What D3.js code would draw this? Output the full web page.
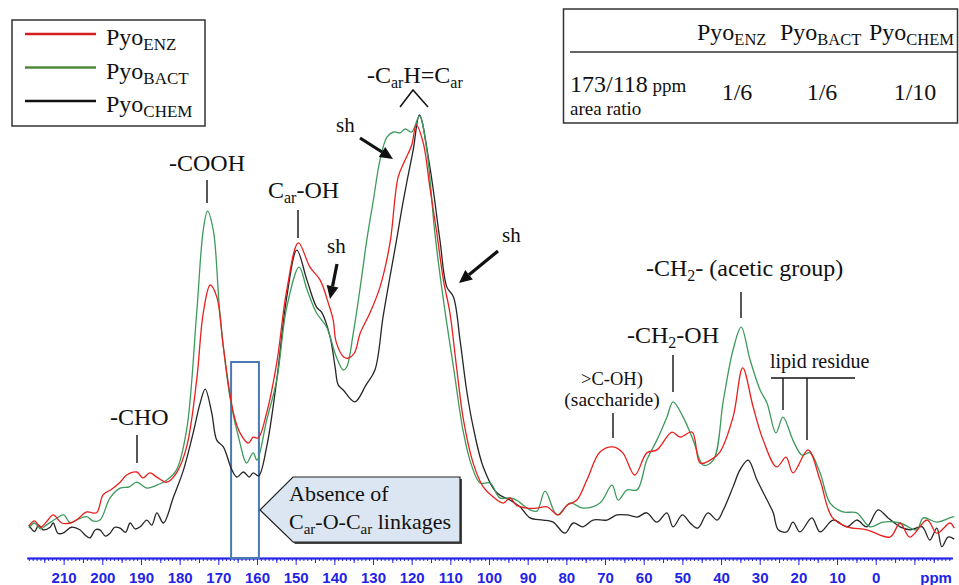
<!DOCTYPE html>
<html><head><meta charset="utf-8">
<script src="https://cdn.jsdelivr.net/npm/d3@7"></script>
<style>body{margin:0;background:#fff} svg{display:block}</style>
</head><body>
<svg id="c" width="959" height="585"></svg>
<script>
// ---- data: [ppm, relative intensity] ----
const enz = [[219,3.3],[217.5,4.5],[216,3.0],[214.5,4.2],[212.7,5.9],[210.5,4.0],[208.3,4.0],[206.7,4.7],[204,6.6],[201.5,6.4],[199.8,10.6],[197.5,12.0],[195.4,13.6],[193.7,15.3],[191.1,16.0],[189.5,14.6],[187.7,15.8],[185.9,14.8],[183.3,13.6],[180.8,15.8],[178.2,21.9],[175.6,37.6],[173.9,53.4],[172.1,60.0],[170.4,57.2],[168.7,45.4],[166.1,29.9],[164.4,25.2],[162.2,22.8],[161,24.2],[159.7,24.0],[157.5,29.9],[154.9,41.6],[152.3,58.8],[149.3,69.9],[146.3,64.2],[143.7,61.2],[141.3,55],[140.3,51.8],[139.5,46.5],[137.5,43],[136.4,42.8],[134.8,44],[133.3,48.7],[130.8,53.4],[128.2,59.5],[125.6,69.9],[123.5,85.4],[121.7,89.4],[120,92.9],[118.8,97.6],[117,93.4],[115.3,83],[113.5,72.2],[111.8,61.2],[110.1,53.4],[108.4,40.7],[106.6,28.2],[104.1,18.1],[101.5,12.5],[98.9,10.1],[96.3,8.7],[94.6,9.9],[92.9,8.2],[90.2,7.5],[87.6,7.5],[85,7.8],[82.1,5.9],[79.8,8.2],[77.3,9.4],[74.7,14.1],[71.3,20.7],[67.9,21.9],[65.4,20.5],[62.3,15.3],[59.2,20.5],[56.6,21.2],[52.7,25.4],[50.6,24.2],[47.5,25.4],[45.4,18.1],[42.8,18.8],[40.3,20.7],[36.9,28.9],[34.4,40.5],[31.7,31.3],[29.1,23.5],[25.6,17.2],[23.2,19.5],[21.4,15.8],[17.5,21.2],[14.4,14.1],[11.3,5.4],[7.4,3.1],[2.3,2.4],[-3.7,0.7],[-6.3,4.0],[-8.8,0.7],[-13.3,4.7],[-15.8,1.6],[-19.2,4.0],[-20.3,2.8]];

const bact = [[219,2.8],[217.5,4.0],[216,2.6],[214.5,3.5],[212,5.0],[210,5.9],[208.3,4.0],[206.7,4.7],[204,5.5],[202.5,4.5],[200.6,4.7],[198,9.9],[195.4,12.2],[193,12.5],[191.1,13.6],[188.5,12.2],[185.9,12.9],[183.3,14.1],[180.8,16.5],[178.2,25.9],[175.6,53.4],[173.9,72.9],[172.8,77.4],[171.3,72.9],[169.6,53.4],[167,33.6],[164.4,22.8],[162.7,18.1],[161,20.5],[160,18.8],[157.5,28.2],[154.9,37.6],[152.3,54.8],[149.1,64.2],[147.1,59],[144.6,53.4],[142,50.1],[139.5,43.1],[137.7,40.0],[136.8,40.7],[135.1,48.7],[133.3,59.5],[131.6,70.6],[129.9,80],[128.2,89.4],[126.4,94.8],[124.7,96],[123,95.8],[121.7,96.7],[120,96],[118,99.8],[116.1,91.8],[114,72.2],[111.8,56.5],[109.2,40.7],[106.6,25.2],[104.5,17.5],[102.3,13.4],[99.7,13.4],[97.2,9.9],[94.6,9.9],[92.9,9.4],[89.4,7.1],[87.6,6.8],[85.5,11.5],[82.4,5.9],[79.1,8.7],[75.7,7.5],[71.3,8.7],[68.2,12.9],[66.6,9.4],[64.3,11.8],[61.7,11.8],[59.2,18.8],[56.6,23.5],[54,28.9],[52.4,32.5],[49.8,28.9],[47.2,23.5],[44.6,17.6],[42,18.8],[39.4,32.9],[36.9,44.7],[34.8,50.1],[32.5,42.4],[29.9,35.3],[28.1,32.2],[25.8,25.2],[24,28.9],[21.4,23.5],[19.1,20.0],[17,20.5],[14.4,15.8],[11.8,8.7],[8.5,6.6],[4.9,6.4],[1.5,3.1],[-1.9,4.2],[-6.3,4.0],[-10.6,2.4],[-12.3,5.2],[-15.8,4.2],[-19.7,5.4],[-20.3,5.5]];

const chem = [[219,3.5],[217.5,2.0],[216.5,3.5],[215.3,2.4],[213.5,3.0],[212.7,4.0],[211.5,1.6],[210.2,1.6],[208,3.0],[205.8,2.4],[204.5,1.2],[203.2,0.5],[201.8,2.4],[200.6,2.4],[199.2,0.9],[198,1.6],[196.8,3.0],[195.4,2.8],[194,1.8],[192.8,4.0],[191.5,2.6],[190.2,3.1],[188.5,4.7],[187.2,3.5],[185.9,6.4],[184.2,4.0],[181.6,10.1],[179,16.5],[176.5,25.2],[174.7,32.2],[173.4,35.5],[171.7,29.9],[170.4,23.5],[168.7,21.9],[166.5,16.5],[165.2,14.8],[163.5,16.0],[162,14.8],[161,15.8],[159.6,15.1],[157.5,21.9],[154.9,37.6],[152.3,57.2],[149.7,68.2],[147.1,61.2],[144.6,54.8],[143.3,53.6],[141.1,47.8],[139.8,40.7],[139,36.5],[137.7,35.3],[134.7,32.5],[131.8,36.5],[129.5,40],[127.4,52.5],[125.6,62],[123.9,70.6],[122.6,77.6],[121.3,84],[119.6,91.8],[118,100],[115.3,87.8],[112.7,70.6],[110.9,59.5],[109.2,57.2],[107.5,47.1],[105.8,35.3],[104.1,26.6],[101.5,17.2],[98,11.1],[94.6,9.4],[92,7.8],[89.4,5.2],[86,4.7],[83.4,4.2],[80.4,1.6],[78.2,4.0],[75.7,3.1],[73.1,4.7],[69.5,4.7],[66.9,5.9],[64.3,5.9],[61.7,5.4],[59.2,6.4],[56.6,4.2],[54,6.4],[52.4,3.1],[50,5.9],[48,4.0],[46,2.8],[43.4,6.4],[41,4.7],[39.4,7.1],[36.9,12.5],[35.1,16.5],[33,18.8],[30.7,14.1],[28.1,9.4],[26.5,6.4],[25.2,2.4],[23,1.9],[21.4,4.2],[19.6,1.9],[16.5,5.2],[14.4,1.9],[11,4.7],[7.4,3.1],[4.9,4.7],[2.3,3.1],[-0.6,7.1],[-3.2,5.2],[-6.3,3.1],[-9,2.4],[-12,3.1],[-14,0],[-15.8,2.8],[-17.1,-1.6],[-18.7,0.7],[-20.3,0.2]];

const seriesNames = ["ENZ", "BACT", "CHEM"];
const seriesColors = ["#e8201e", "#3d9a5c", "#262626"];
const legendColors = ["#d42020", "#4d8a3c", "#111111"];
const majorTicks = d3.range(210, -11, -10);
const tableRowLabel = "173/118";
const tableRatios = ["1/6", "1/6", "1/10"];
const shadedRange = [166.7, 159.5]; // ppm, "absence" window

// ---- setup ----
const svg = d3.select("#c");
const SERIF = "'Liberation Serif','Times New Roman',serif";
const SANS = "'Liberation Sans',Arial,sans-serif";
const AXIS_BLUE = "#2323e6";

const x = d3.scaleLinear().domain([219.5, -19.8]).range([26.9, 952.3]);
const y = d3.scaleLinear().domain([0, 100]).range([540, 115]);

function rich(g, px, py, parts, size, subSize, anchor) {
  const t = g.append("text").attr("x", px).attr("y", py)
    .attr("font-family", SERIF).attr("font-size", size)
    .attr("text-anchor", anchor || "start").attr("fill", "#111");
  const shift = Math.round(size * 0.22);
  let down = false;
  parts.forEach(p => {
    const isSub = typeof p !== "string";
    const s = t.append("tspan").text(isSub ? p.sub : p);
    if (isSub) { s.attr("font-size", subSize).attr("dy", down ? 0 : shift); down = true; }
    else if (down) { s.attr("dy", -shift); down = false; }
  });
  return t;
}

// ---- axis ----
const axG = svg.append("g").attr("transform", "translate(0,558)");
axG.call(d3.axisBottom(x).tickValues(d3.range(219, -20, -1)).tickSize(3).tickFormat("").tickSizeOuter(0));
axG.append("g").call(d3.axisBottom(x).tickValues(d3.range(215, -20, -10)).tickSize(5).tickFormat("").tickSizeOuter(0));
axG.append("g").call(d3.axisBottom(x).tickValues(majorTicks).tickSize(7).tickPadding(7)
  .tickFormat(d => d < 0 ? "" : d).tickSizeOuter(0));
axG.selectAll("path.domain").attr("stroke", AXIS_BLUE).attr("stroke-width", 1.6);
axG.selectAll(".tick line").attr("stroke", AXIS_BLUE).attr("stroke-width", 1);
axG.selectAll(".tick text").attr("fill", AXIS_BLUE).attr("font-family", SANS)
  .attr("font-weight", "bold").attr("font-size", 15);
axG.append("text").attr("x", x(-15.6)).attr("y", 25).attr("text-anchor", "middle")
  .attr("fill", AXIS_BLUE).attr("font-family", SANS).attr("font-weight", "bold")
  .attr("font-size", 15).text("ppm");

// ---- shaded window rectangle ----
svg.append("rect").attr("x", x(shadedRange[0])).attr("y", 362)
  .attr("width", x(shadedRange[1]) - x(shadedRange[0])).attr("height", 558 - 362)
  .attr("fill", "none").attr("stroke", "#4a7ab4").attr("stroke-width", 2);

// ---- curves ----
const line = d3.line().x(d => x(d[0])).y(d => y(d[1])).curve(d3.curveCatmullRom.alpha(0.5));
[chem, bact, enz].forEach((data, i) => {
  const ci = [2, 1, 0][i];
  svg.append("path").datum(data).attr("d", line).attr("fill", "none")
    .attr("stroke", seriesColors[ci]).attr("stroke-width", 1.3).attr("stroke-linejoin", "round");
});

// ---- callout box ----
const cg = svg.append("g");
const callout = [[260,510],[293,477],[460,477],[460,542],[293,542]];
cg.append("polygon").attr("points", callout.map(p => [p[0]+2, p[1]+2].join(",")).join(" "))
  .attr("fill", "#444");
cg.append("polygon").attr("points", callout.map(p => p.join(",")).join(" "))
  .attr("fill", "#dce6f2").attr("stroke", "#222").attr("stroke-width", 1.2);
rich(cg, 289, 501, ["Absence of"], 22, 15);
rich(cg, 289, 529, ["C", {sub: "ar"}, "-O-C", {sub: "ar"}, " linkages"], 22, 15);

// ---- annotations ----
const an = svg.append("g");
function seg(x1, y1, x2, y2, w) {
  an.append("line").attr("x1", x1).attr("y1", y1).attr("x2", x2).attr("y2", y2)
    .attr("stroke", "#111").attr("stroke-width", w || 1.4);
}
function arrow(x1, y1, x2, y2) {
  const a = Math.atan2(y2 - y1, x2 - x1), L = 13, W = 6;
  const bx = x2 - L * Math.cos(a), by = y2 - L * Math.sin(a);
  seg(x1, y1, bx, by, 3.2);
  an.append("polygon").attr("points", [
    [x2, y2],
    [bx + W * Math.sin(a), by - W * Math.cos(a)],
    [bx - W * Math.sin(a), by + W * Math.cos(a)]].map(p => p.join(",")).join(" "))
    .attr("fill", "#111");
}
rich(an, 367, 83, ["-C", {sub: "ar"}, "H=C", {sub: "ar"}], 24, 16);
an.append("polyline").attr("points", "400,107 413,90 428,107").attr("fill", "none")
  .attr("stroke", "#111").attr("stroke-width", 1.5);
rich(an, 336, 132, ["sh"], 21, 14);
arrow(360, 138, 393, 159);
rich(an, 207, 171, ["-COOH"], 24, 16, "middle");
seg(207, 180, 207, 203);
rich(an, 268, 198, ["C", {sub: "ar"}, "-OH"], 24, 16);
seg(298, 210, 298, 238);
rich(an, 327, 253, ["sh"], 21, 14);
arrow(337, 264, 330, 299);
rich(an, 502, 242, ["sh"], 21, 14);
arrow(498, 251, 459, 283);
rich(an, 110, 425, ["-CHO"], 24, 16);
seg(137, 435, 137, 463);
rich(an, 646, 276, ["-CH", {sub: "2"}, "- (acetic group)"], 24, 16);
seg(741, 292, 741, 318);
rich(an, 627, 343, ["-CH", {sub: "2"}, "-OH"], 24, 16);
seg(673, 355, 673, 392);
rich(an, 612, 385, [">C-OH)"], 18.5, 14, "middle");
rich(an, 612, 406, ["(saccharide)"], 19.5, 14, "middle");
seg(613, 413, 613, 438);
rich(an, 770, 368, ["lipid residue"], 20, 14);
seg(771, 378, 855, 378);
seg(783, 378, 783, 410);
seg(807, 378, 807, 440);

// ---- legend ----
const lg = svg.append("g");
lg.append("rect").attr("x", 12).attr("y", 20).attr("width", 193).attr("height", 106)
  .attr("fill", "#fff").attr("stroke", "#333").attr("stroke-width", 1.5);
seriesNames.forEach((n, i) => {
  const ly = 34 + i * 33.5;
  lg.append("line").attr("x1", 25).attr("x2", 96).attr("y1", ly).attr("y2", ly)
    .attr("stroke", legendColors[i]).attr("stroke-width", 2.6);
  rich(lg, 106, ly + 11, ["Pyo", {sub: n}], 24, 17);
});

// ---- table ----
const tb = svg.append("g");
tb.append("rect").attr("x", 563.5).attr("y", 9).attr("width", 394).attr("height", 114)
  .attr("fill", "#fff").attr("stroke", "#333").attr("stroke-width", 1.5);
tb.append("line").attr("x1", 570).attr("x2", 957).attr("y1", 52).attr("y2", 52)
  .attr("stroke", "#333").attr("stroke-width", 1.3);
const headX = [697, 780, 869], valX = [737, 822, 915];
seriesNames.forEach((n, i) => {
  rich(tb, headX[i], 40, ["Pyo", {sub: n}], 24, 16.5);
  rich(tb, valX[i], 100, [tableRatios[i]], 24, 16, "middle");
});
const rl = rich(tb, 570, 92, [tableRowLabel], 24, 16);
rl.append("tspan").attr("font-size", 19).text(" ppm");
rich(tb, 570, 115, ["area ratio"], 19, 14);
</script></body></html>
